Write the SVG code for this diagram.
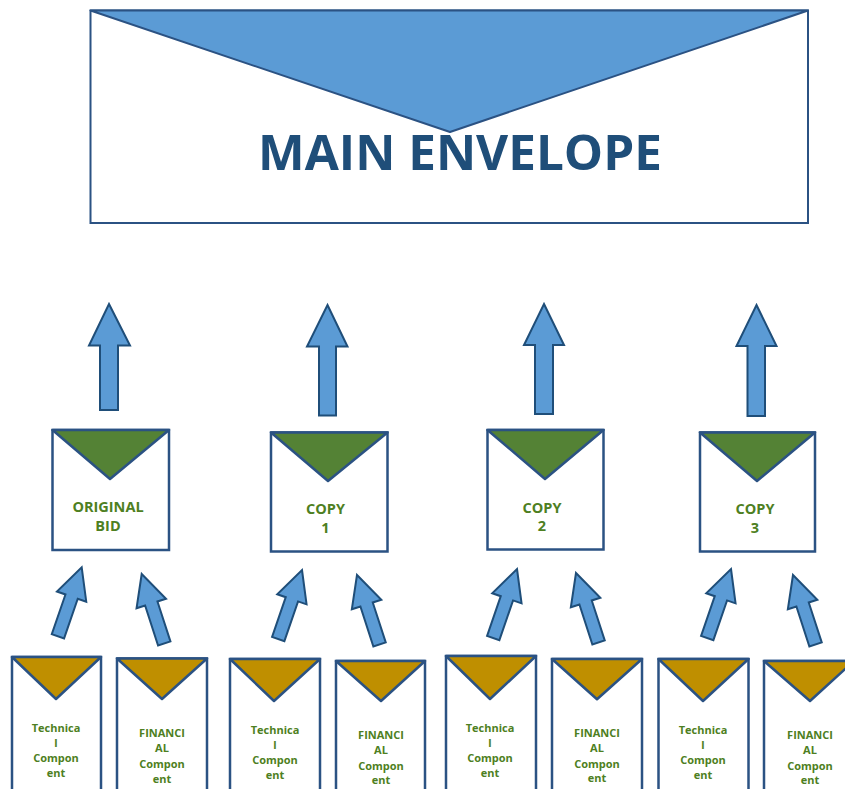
<svg xmlns="http://www.w3.org/2000/svg" xmlns:xlink="http://www.w3.org/1999/xlink" width="845" height="789" viewBox="0 0 845 789">
<style>
.env{fill:#fff;stroke:#2B5283;stroke-width:2.5}
.menv{fill:#fff;stroke:#2B5283;stroke-width:2}
.mflap{fill:#5B9BD5;stroke:#2B5283;stroke-width:2;stroke-linejoin:round}
.gflap{fill:#548235;stroke:#2B5283;stroke-width:2.5;stroke-linejoin:round}
.oflap{fill:#BF8F00;stroke:#2B5283;stroke-width:2.5;stroke-linejoin:round}
.arr{fill:#5B9BD5;stroke:#1F4E79;stroke-width:2;stroke-linejoin:miter}
.title{font-family:"Open Sans","Liberation Sans",sans-serif;font-weight:bold;font-size:48px;fill:#1F4E79;text-anchor:middle}
.mid{font-family:"Open Sans","Liberation Sans",sans-serif;font-weight:bold;font-size:14.5px;fill:#4E7F22;text-anchor:middle}
.sm{font-family:"Open Sans","Liberation Sans",sans-serif;font-weight:bold;font-size:11px;fill:#4E7F22;text-anchor:middle}
</style>
<defs>
<path id="sa" d="M0,0 L15.5,31 L6.5,31 L6.5,73 L-6.5,73 L-6.5,31 L-15.5,31 Z"/>
</defs>
<rect width="845" height="789" fill="#fff"/>

<g id="main-envelope">
<rect class="menv" x="90.5" y="10.5" width="717.5" height="212.5"/>
<polygon class="mflap" points="90.5,10.5 808,10.5 450,132"/>
<text class="title" x="460" y="170" textLength="404" lengthAdjust="spacingAndGlyphs">MAIN ENVELOPE</text>
</g>

<g id="connectors">
<polygon class="arr" points="109,304 130,345.5 118,345.5 118,410 100,410 100,345.5 89,345.5"/>
<polygon class="arr" points="327.5,305 347.5,346.5 336,346.5 336,415.5 319,415.5 319,346.5 307,346.5"/>
<polygon class="arr" points="544,304 564,345 553,345 553,414 535,414 535,345 524,345"/>
<polygon class="arr" points="756.5,305 776.5,346 765,346 765,416 747.5,416 747.5,346 736.5,346"/>
<use xlink:href="#sa" class="arr" transform="translate(81.7,567.3) rotate(19)"/>
<use xlink:href="#sa" class="arr" transform="translate(141.7,574) rotate(-18)"/>
<use xlink:href="#sa" class="arr" transform="translate(302,570) rotate(19)"/>
<use xlink:href="#sa" class="arr" transform="translate(357,575) rotate(-18)"/>
<use xlink:href="#sa" class="arr" transform="translate(517,569) rotate(19)"/>
<use xlink:href="#sa" class="arr" transform="translate(576,573) rotate(-18)"/>
<use xlink:href="#sa" class="arr" transform="translate(731,569) rotate(19)"/>
<use xlink:href="#sa" class="arr" transform="translate(793,575) rotate(-18)"/>
</g>

<g id="original-bid">
<rect class="env" x="52.5" y="430" width="116.5" height="120"/>
<polygon class="gflap" points="52.5,430 169,430 110,479"/>
<text class="mid" x="108" y="512">ORIGINAL</text>
<text class="mid" x="108" y="530.5">BID</text>
</g>
<g id="copy-1">
<rect class="env" x="271" y="432.5" width="116.5" height="119"/>
<polygon class="gflap" points="271,432.5 387.5,432.5 328,481"/>
<text class="mid" x="325.5" y="514">COPY</text>
<text class="mid" x="325.5" y="533">1</text>
</g>
<g id="copy-2">
<rect class="env" x="487.5" y="430" width="116" height="119.5"/>
<polygon class="gflap" points="487.5,430 603.5,430 545,479"/>
<text class="mid" x="542" y="512.5">COPY</text>
<text class="mid" x="542" y="531">2</text>
</g>
<g id="copy-3">
<rect class="env" x="700" y="432.5" width="115" height="119"/>
<polygon class="gflap" points="700,432.5 815,432.5 757,481"/>
<text class="mid" x="755" y="514">COPY</text>
<text class="mid" x="755" y="533">3</text>
</g>

<g id="technical-1">
<rect class="env" x="12" y="657" width="89" height="150"/>
<polygon class="oflap" points="12,657 101,657 56,699"/>
<text class="sm" x="56" y="732.3">Technica</text>
<text class="sm" x="56" y="747.3">l</text>
<text class="sm" x="56" y="762.3">Compon</text>
<text class="sm" x="56" y="777.3">ent</text>
</g>
<g id="financial-1">
<rect class="env" x="117" y="658.5" width="90" height="150"/>
<polygon class="oflap" points="117,658.5 207,658.5 162,699"/>
<text class="sm" x="162" y="736.7">FINANCI</text>
<text class="sm" x="162" y="751.7">AL</text>
<text class="sm" x="162" y="767.5">Compon</text>
<text class="sm" x="162" y="782.5">ent</text>
</g>
<g id="technical-2">
<rect class="env" x="230" y="659" width="90" height="150"/>
<polygon class="oflap" points="230,659 320,659 274,701"/>
<text class="sm" x="275" y="733.5">Technica</text>
<text class="sm" x="275" y="748.5">l</text>
<text class="sm" x="275" y="763.5">Compon</text>
<text class="sm" x="275" y="779">ent</text>
</g>
<g id="financial-2">
<rect class="env" x="336" y="661" width="89" height="150"/>
<polygon class="oflap" points="336,661 425,661 381,701"/>
<text class="sm" x="381" y="738.5">FINANCI</text>
<text class="sm" x="381" y="753.5">AL</text>
<text class="sm" x="381" y="769.5">Compon</text>
<text class="sm" x="381" y="784">ent</text>
</g>
<g id="technical-3">
<rect class="env" x="446" y="656" width="90" height="150"/>
<polygon class="oflap" points="446,656 536,656 490,699"/>
<text class="sm" x="490" y="731.5">Technica</text>
<text class="sm" x="490" y="746.5">l</text>
<text class="sm" x="490" y="761.5">Compon</text>
<text class="sm" x="490" y="777">ent</text>
</g>
<g id="financial-3">
<rect class="env" x="552" y="659" width="90" height="150"/>
<polygon class="oflap" points="552,659 642,659 597,699.3"/>
<text class="sm" x="597" y="736.5">FINANCI</text>
<text class="sm" x="597" y="751.5">AL</text>
<text class="sm" x="597" y="767.5">Compon</text>
<text class="sm" x="597" y="782">ent</text>
</g>
<g id="technical-4">
<rect class="env" x="658.5" y="659" width="90" height="150"/>
<polygon class="oflap" points="658.5,659 748.5,659 703,701"/>
<text class="sm" x="703" y="733.5">Technica</text>
<text class="sm" x="703" y="748.5">l</text>
<text class="sm" x="703" y="763.5">Compon</text>
<text class="sm" x="703" y="779">ent</text>
</g>
<g id="financial-4">
<rect class="env" x="764" y="661" width="90" height="150"/>
<polygon class="oflap" points="764,661 854,661 810,701"/>
<text class="sm" x="810" y="738.5">FINANCI</text>
<text class="sm" x="810" y="753.5">AL</text>
<text class="sm" x="810" y="769.5">Compon</text>
<text class="sm" x="810" y="784">ent</text>
</g>
</svg>
